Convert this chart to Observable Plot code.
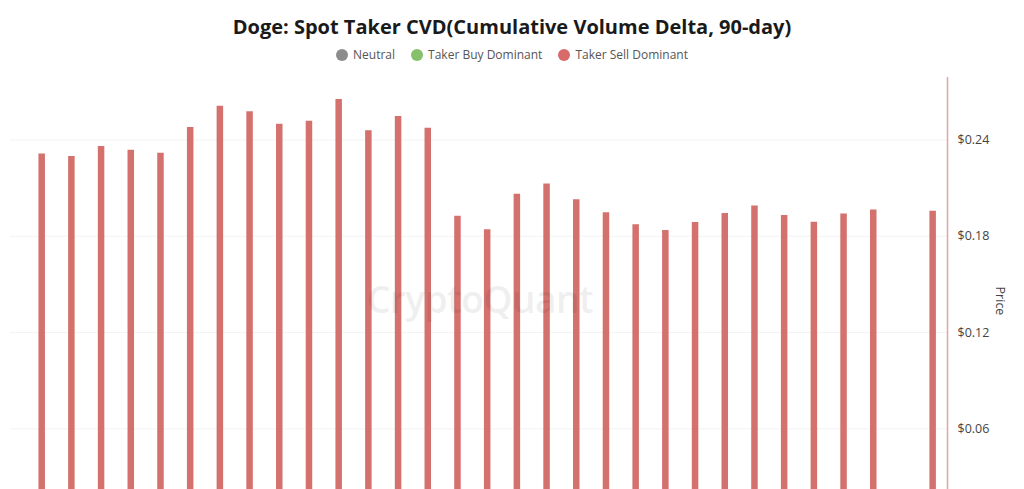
<!DOCTYPE html>
<html>
<head>
<meta charset="utf-8">
<script src="https://cdn.jsdelivr.net/npm/d3@7"></script>
<script src="https://cdn.jsdelivr.net/npm/@observablehq/plot@0.6"></script>
<style>
  html, body { margin: 0; padding: 0; background: #fff; overflow: hidden; }
  #wrap { position: relative; width: 1024px; height: 489px; font-family: "Open Sans", "Noto Sans", sans-serif; }
  #head { position: relative; height: 70px; }
  #title { position: absolute; left: 0; right: 0; top: 13px; line-height: 28px; text-align: center;
           font-weight: 700; font-size: 20px; color: #1a1a1a; }
  #legend { position: absolute; left: 0; right: 0; top: 47px; line-height: 16px; display: flex;
            justify-content: center; gap: 16px; font-size: 12px; color: #555; }
  .item { display: flex; align-items: center; gap: 5px; }
  .dot { width: 12px; height: 12px; border-radius: 50%; display: inline-block; }
  #price { position: absolute; left: 1000px; top: 301px; transform: translate(-50%, -50%) rotate(90deg);
           font-size: 12.5px; color: #444; }
  #mark { position: absolute; left: 480px; top: 298px; transform: translate(-50%, -50%);
          font-size: 37px; font-weight: 600; color: #000; opacity: 0.06; letter-spacing: -0.5px; }
</style>
</head>
<body>
<div id="wrap">
  <div id="head">
    <div id="title"></div>
    <div id="legend"></div>
  </div>
  <div id="chart"></div>
  <div id="mark">CryptoQuant</div>
  <div id="price">Price</div>
</div>
<script>
const titleText = "Doge: Spot Taker CVD(Cumulative Volume Delta, 90-day)";
const legendLabels = ["Neutral", "Taker Buy Dominant", "Taker Sell Dominant"];
const periods = d3.range(31);
const price = [
  0.2313, 0.2297, 0.2359, 0.2336, 0.2317, 0.2477, 0.2610, 0.2575, 0.2498, 0.2516,
  0.2652, 0.2457, 0.2546, 0.2473, 0.1925, 0.1840, 0.2062, 0.2126, 0.2028, 0.1947,
  0.1871, 0.1835, 0.1885, 0.1941, 0.1989, 0.1929, 0.1887, 0.1939, 0.1964, null,
  0.1956
];
const priceTicks = [0.06, 0.12, 0.18, 0.24];

const legendColors = ["#8c8c8c", "#86c06a", "#d96a6a"];
const barColor = "#d4716d";

document.getElementById("title").textContent = titleText;
const leg = document.getElementById("legend");
legendLabels.forEach((l, i) => {
  const it = document.createElement("span");
  it.className = "item";
  const d = document.createElement("span");
  d.className = "dot";
  d.style.background = legendColors[i];
  const t = document.createElement("span");
  t.textContent = l;
  it.appendChild(d); it.appendChild(t);
  leg.appendChild(it);
});

const data = periods.map(i => ({period: i, price: price[i]})).filter(d => d.price != null);

const chart = Plot.plot({
  width: 1024,
  height: 419,
  marginLeft: 10,
  marginRight: 77,
  marginTop: 7,
  marginBottom: 0,
  style: {fontFamily: "Open Sans, Noto Sans, sans-serif", fontSize: "12.5px", color: "#444", background: "transparent"},
  x: {domain: [-1.05, 30.5], axis: null},
  y: {domain: [0.0222, 0.2789], axis: null},
  marks: [
    Plot.gridY(priceTicks, {stroke: "#000", strokeOpacity: 0.05}),
    Plot.ruleX(data, {x: "period", y1: 0, y2: "price", stroke: barColor, strokeWidth: 6.5, clip: true}),
    Plot.ruleX([30.5], {stroke: "#e2a3a3", strokeWidth: 1.5}),
    Plot.axisY(priceTicks, {anchor: "right", tickSize: 0, tickPadding: 10, label: null,
      tickFormat: d => "$" + d.toFixed(2), fill: "#444"})
  ]
});
document.getElementById("chart").appendChild(chart);
</script>
</body>
</html>
